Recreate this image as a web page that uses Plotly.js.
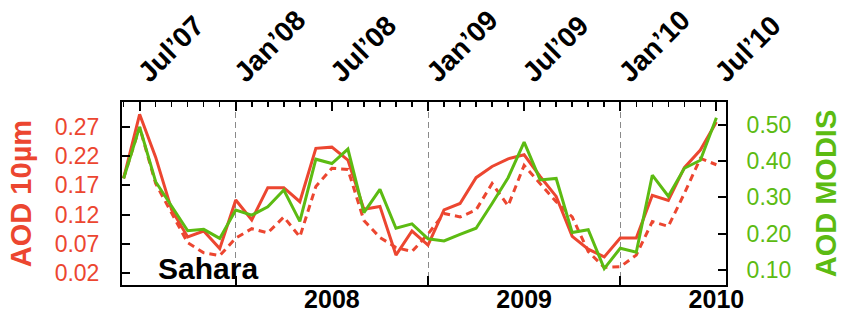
<!DOCTYPE html>
<html>
<head>
<meta charset="utf-8">
<script src="https://cdn.plot.ly/plotly-3.0.1.min.js"></script>
<style>
  html, body { margin: 0; padding: 0; background: #fff; }
  #chart { width: 843px; height: 322px; }
</style>
</head>
<body>
<div id="chart"></div>
<script>
// Monthly index: 0 = Jun 2007 ... 37 = Jul 2010
const months = Array.from({length: 38}, (_, i) => i);

// AOD at 10 micron (solid red, left axis)
const aod10 = [0.182, 0.291, 0.218, 0.128, 0.082, 0.092, 0.062, 0.145, 0.111, 0.166,
               0.166, 0.142, 0.233, 0.235, 0.213, 0.129, 0.134, 0.051, 0.092, 0.068,
               0.128, 0.139, 0.183, 0.202, 0.215, 0.222, 0.185, 0.151, 0.083, 0.061,
               0.048, 0.080, 0.080, 0.153, 0.144, 0.200, 0.230, 0.278];

// AOD at 10 micron, second estimate (dashed red, left axis)
const aod10b = [0.182, 0.269, 0.173, 0.122, 0.072, 0.055, 0.050, 0.080, 0.096, 0.089,
                0.116, 0.082, 0.168, 0.199, 0.197, 0.110, 0.081, 0.064, 0.057, 0.087,
                0.122, 0.116, 0.128, 0.173, 0.135, 0.204, 0.173, 0.142, 0.116, 0.057,
                0.030, 0.031, 0.051, 0.108, 0.100, 0.156, 0.216, 0.205];

// MODIS AOD (green, right axis)
const modis = [0.352, 0.494, 0.343, 0.274, 0.208, 0.212, 0.187, 0.265, 0.251, 0.274,
               0.320, 0.234, 0.405, 0.393, 0.433, 0.258, 0.322, 0.215, 0.227, 0.186,
               0.180, 0.198, 0.215, 0.283, 0.354, 0.452, 0.348, 0.352, 0.203, 0.211,
               0.104, 0.160, 0.149, 0.361, 0.303, 0.380, 0.402, 0.519];

// Top axis labels (every six months)
const dateTickVals = [1, 7, 13, 19, 25, 31, 37];
const dateTickText = ['Jul\u201907', 'Jan\u201908', 'Jul\u201908', 'Jan\u201909', 'Jul\u201909', 'Jan\u201910', 'Jul\u201910'];

// Bottom axis: year labels and year boundaries
const yearTickVals = [13, 25, 37];
const yearTickText = ['2008', '2009', '2010'];
const yearBounds = [7, 19, 31];

// Axis ticks
const leftTicks = [0.02, 0.07, 0.12, 0.17, 0.22, 0.27];
const rightTicks = [0.10, 0.20, 0.30, 0.40, 0.50];

const RED = '#ec4630';
const GREEN = '#5cbb12';
const FONT = 'Liberation Sans, Arial, sans-serif';

const traces = [
  {
    x: months, y: modis, xaxis: 'x2', yaxis: 'y2', type: 'scatter', mode: 'lines',
    line: {color: GREEN, width: 3}, name: 'AOD MODIS', hoverinfo: 'skip'
  },
  {
    x: months, y: aod10b, xaxis: 'x', yaxis: 'y', type: 'scatter', mode: 'lines',
    line: {color: RED, width: 3, dash: '7px,5px'}, name: 'AOD 10\u00b5m (2)', hoverinfo: 'skip'
  },
  {
    x: months, y: aod10, xaxis: 'x', yaxis: 'y', type: 'scatter', mode: 'lines',
    line: {color: RED, width: 3}, name: 'AOD 10\u00b5m', hoverinfo: 'skip'
  }
];

const xRange = [-0.1, 37.6];

const layout = {
  width: 843, height: 322,
  margin: {l: 122, r: 117, t: 102, b: 37, pad: 0},
  paper_bgcolor: '#fff', plot_bgcolor: '#fff',
  showlegend: false,
  font: {family: FONT, color: '#000'},
  xaxis: {
    range: xRange, showline: true, linecolor: '#000', linewidth: 2, mirror: false,
    zeroline: false, showgrid: false,
    tickmode: 'array', tickvals: yearTickVals, ticktext: yearTickText,
    ticks: '', ticklabelstandoff: -9,
    tickfont: {family: FONT, size: 25, weight: 'bold', color: '#000'},
    minor: {
      tickmode: 'array', tickvals: yearBounds, ticks: 'inside', ticklen: 9,
      tickwidth: 2, tickcolor: '#000',
      showgrid: true, gridcolor: '#8a8a8a', gridwidth: 1, griddash: '6px,4px'
    }
  },
  xaxis2: {
    range: xRange, overlaying: 'x', side: 'top', anchor: 'y2',
    showline: true, linecolor: '#000', linewidth: 2,
    zeroline: false, showgrid: false,
    tickmode: 'array', tickvals: dateTickVals, ticktext: dateTickText,
    ticks: 'inside', ticklen: 9, tickwidth: 2, tickcolor: '#000',
    tickangle: -45, ticklabelstandoff: 1,
    tickfont: {family: FONT, size: 28, weight: 'bold', color: '#000'},
    minor: {tickmode: 'linear', tick0: 0, dtick: 1, ticks: 'inside', ticklen: 5, tickwidth: 1.5, tickcolor: '#000'}
  },
  yaxis: {
    range: [0.0, 0.312], showline: true, linecolor: '#000', linewidth: 2,
    zeroline: false, showgrid: false,
    tickmode: 'array', tickvals: leftTicks, ticktext: leftTicks.map(v => v.toFixed(2)),
    ticks: 'inside', ticklen: 8, tickwidth: 2, tickcolor: '#000',
    ticklabelstandoff: 16,
    tickfont: {family: FONT, size: 23, color: RED},
    title: {text: 'AOD 10\u00b5m', font: {family: FONT, size: 29, weight: 'bold', color: RED}, standoff: 14}
  },
  yaxis2: {
    range: [0.0588, 0.5624], overlaying: 'y', side: 'right', anchor: 'x2',
    showline: true, linecolor: '#000', linewidth: 2,
    zeroline: false, showgrid: false,
    tickmode: 'array', tickvals: rightTicks, ticktext: rightTicks.map(v => v.toFixed(2)),
    ticks: 'inside', ticklen: 8, tickwidth: 2, tickcolor: '#000',
    ticklabelstandoff: 14,
    tickfont: {family: FONT, size: 23, color: GREEN},
    title: {text: 'AOD MODIS', font: {family: FONT, size: 29, weight: 'bold', color: GREEN}, standoff: 25}
  },
  annotations: [
    {
      text: 'Sahara', xref: 'x', yref: 'paper', x: 5.25, y: 0.09,
      xanchor: 'center', yanchor: 'middle', showarrow: false,
      font: {family: FONT, size: 30, weight: 'bold', color: '#000'}
    }
  ]
};

Plotly.newPlot('chart', traces, layout, {staticPlot: true, displayModeBar: false});
</script>
</body>
</html>
